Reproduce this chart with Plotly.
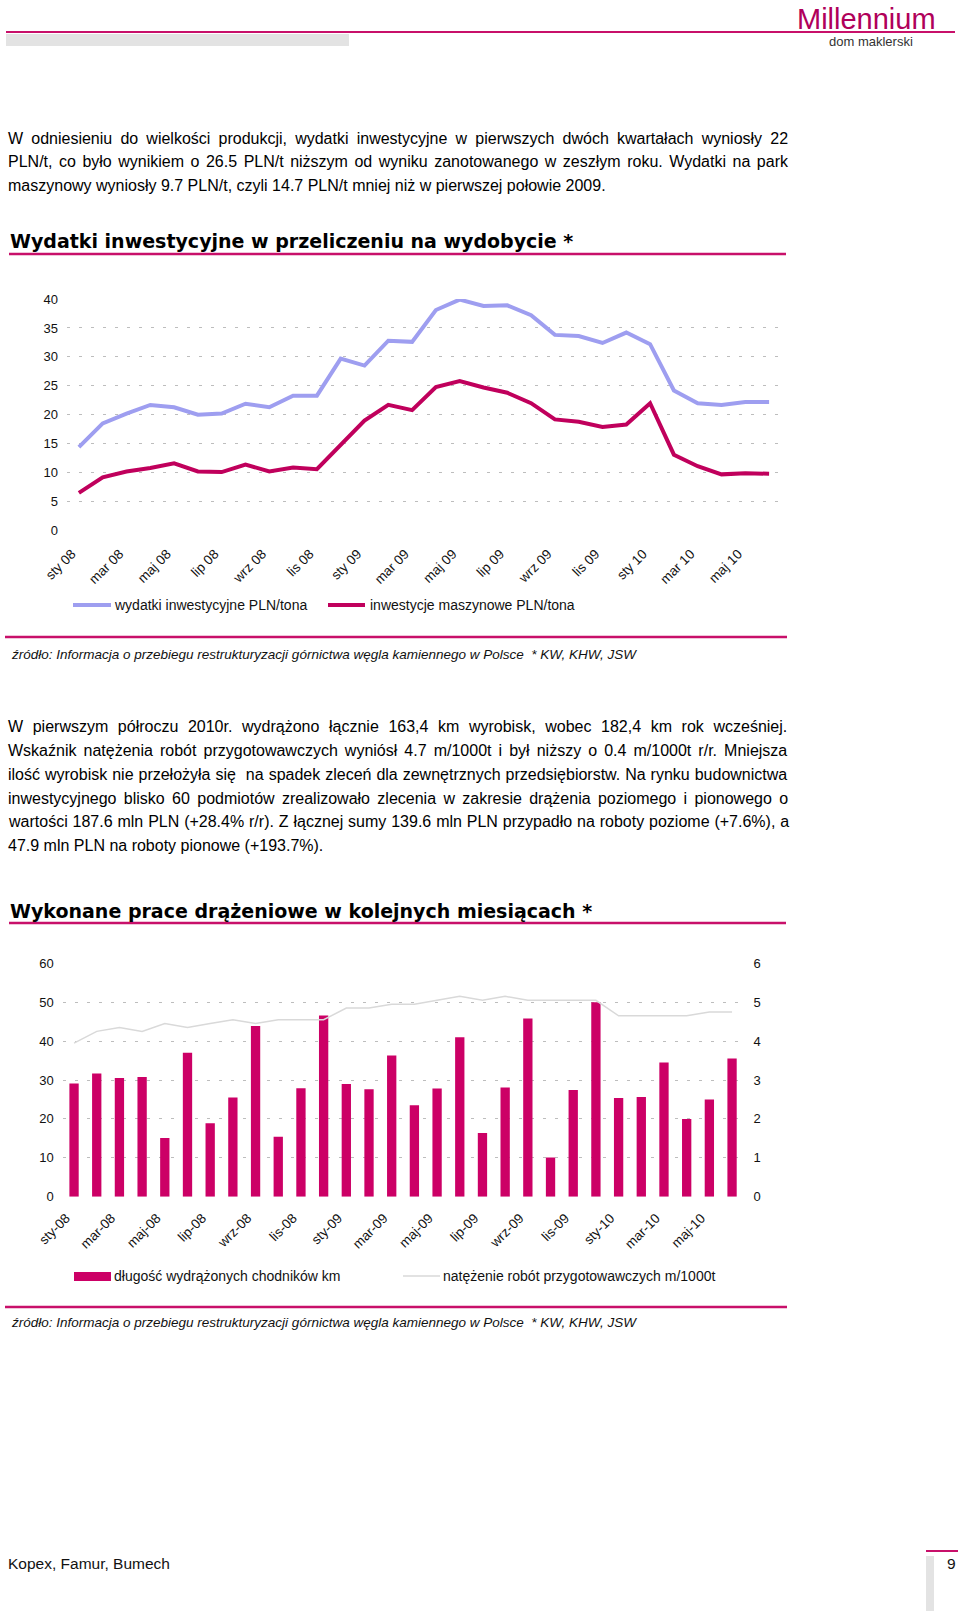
import plotly.graph_objects as go

W, H = 960, 1611

# ---------------- data ----------------
months_1 = ["sty 08", "lut 08", "mar 08", "kwi 08", "maj 08", "cze 08", "lip 08", "sie 08",
            "wrz 08", "paź 08", "lis 08", "gru 08", "sty 09", "lut 09", "mar 09", "kwi 09",
            "maj 09", "cze 09", "lip 09", "sie 09", "wrz 09", "paź 09", "lis 09", "gru 09",
            "sty 10", "lut 10", "mar 10", "kwi 10", "maj 10", "cze 10"]
ticks_1 = ["sty 08", "mar 08", "maj 08", "lip 08", "wrz 08", "lis 08", "sty 09", "mar 09",
           "maj 09", "lip 09", "wrz 09", "lis 09", "sty 10", "mar 10", "maj 10"]
wydatki_inwest = [14.4, 18.5, 20.2, 21.7, 21.3, 20.0, 20.2, 21.9, 21.3, 23.3, 23.3, 29.7,
                  28.5, 32.8, 32.6, 38.1, 39.9, 38.8, 38.9, 37.2, 33.8, 33.6, 32.4, 34.2,
                  32.2, 24.2, 22.0, 21.7, 22.2, 22.2]
inwest_maszyn = [6.5, 9.2, 10.2, 10.8, 11.6, 10.2, 10.1, 11.4, 10.2, 10.9, 10.6, 14.9,
                 19.0, 21.7, 20.8, 24.8, 25.8, 24.7, 23.8, 22.0, 19.2, 18.8, 17.9, 18.3,
                 22.0, 13.1, 11.1, 9.7, 9.9, 9.8]

months_2 = ["sty-08", "lut-08", "mar-08", "kwi-08", "maj-08", "cze-08", "lip-08", "sie-08",
            "wrz-08", "paź-08", "lis-08", "gru-08", "sty-09", "lut-09", "mar-09", "kwi-09",
            "maj-09", "cze-09", "lip-09", "sie-09", "wrz-09", "paź-09", "lis-09", "gru-09",
            "sty-10", "lut-10", "mar-10", "kwi-10", "maj-10", "cze-10"]
ticks_2 = ["sty-08", "mar-08", "maj-08", "lip-08", "wrz-08", "lis-08", "sty-09", "mar-09",
           "maj-09", "lip-09", "wrz-09", "lis-09", "sty-10", "mar-10", "maj-10"]
dlugosc_km = [29.1, 31.7, 30.5, 30.8, 15.1, 37.0, 18.9, 25.5, 43.9, 15.4, 27.9, 46.6,
              29.0, 27.6, 36.3, 23.5, 27.8, 41.0, 16.4, 28.1, 45.8, 10.1, 27.4, 50.0,
              25.4, 25.6, 34.5, 20.0, 25.0, 35.5]
natezenie = [3.95, 4.25, 4.35, 4.25, 4.45, 4.35, 4.45, 4.55, 4.45, 4.55, 4.55, 4.55,
             4.85, 4.85, 4.95, 4.95, 5.05, 5.15, 5.05, 5.15, 5.05, 5.05, 5.05, 5.05,
             4.65, 4.65, 4.65, 4.65, 4.75, 4.75]

para_1 = ["W odniesieniu do wielkości produkcji, wydatki inwestycyjne w pierwszych dwóch kwartałach wyniosły 22",
          "PLN/t, co było wynikiem o 26.5 PLN/t niższym od wyniku zanotowanego w zeszłym roku. Wydatki na park",
          "maszynowy wyniosły 9.7 PLN/t, czyli 14.7 PLN/t mniej niż w pierwszej połowie 2009."]
para_2 = ["W pierwszym półroczu 2010r. wydrążono łącznie 163,4 km wyrobisk, wobec 182,4 km rok wcześniej.",
          "Wskaźnik natężenia robót przygotowawczych wyniósł 4.7 m/1000t i był niższy o 0.4 m/1000t r/r. Mniejsza",
          "ilość wyrobisk nie przełożyła się  na spadek zleceń dla zewnętrznych przedsiębiorstw. Na rynku budownictwa",
          "inwestycyjnego blisko 60 podmiotów zrealizowało zlecenia w zakresie drążenia poziomego i pionowego o",
          "wartości 187.6 mln PLN (+28.4% r/r). Z łącznej sumy 139.6 mln PLN przypadło na roboty poziome (+7.6%), a",
          "47.9 mln PLN na roboty pionowe (+193.7%)."]
title_1 = "Wydatki inwestycyjne w przeliczeniu na wydobycie *"
title_2 = "Wykonane prace drążeniowe w kolejnych miesiącach *"
source = "źródło: Informacja o przebiegu restrukturyzacji górnictwa węgla kamiennego w Polsce  * KW, KHW, JSW"
legend_1 = ["wydatki inwestycyjne PLN/tona", "inwestycje maszynowe PLN/tona"]
legend_2 = ["długość wydrążonych chodników km", "natężenie robót przygotowawczych m/1000t"]

# ---------------- styles ----------------
FONT = "Liberation Sans, Arial, sans-serif"
MAG = "#C8106A"
BAR = "#CC0066"
LINE_MAG = "#C0005C"
LINE_BLUE = "#9E9EF0"
GRID = "#BDBDBD"
TXT = "#111111"


def X(px):
    return px / W


def Y(py):
    return 1 - py / H


# Arial / Liberation Sans advance widths (1/1000 em) for justification
AW = {" ": 278, "!": 278, "%": 889, "(": 333, ")": 333, "*": 389, "+": 584, ",": 278,
      "-": 333, ".": 278, "/": 278, ":": 278, ";": 278}
for d in "0123456789":
    AW[d] = 556
AW.update(dict(zip("ABCDEFGHIJKLMNOPQRSTUVWXYZ",
                   [667, 667, 722, 722, 667, 611, 778, 722, 278, 500, 667, 556, 833, 722, 778,
                    667, 778, 722, 667, 611, 722, 667, 944, 667, 667, 611])))
AW.update(dict(zip("abcdefghijklmnopqrstuvwxyz",
                   [556, 556, 500, 556, 556, 278, 556, 556, 222, 222, 500, 222, 833, 556, 556,
                    556, 556, 333, 500, 278, 556, 500, 722, 500, 500, 500])))
AW.update({"ą": 556, "ć": 500, "ę": 556, "ł": 222, "ń": 556, "ó": 556, "ś": 500, "ź": 500,
           "ż": 500, "Ł": 556, "Ś": 667, "Ż": 611, "Ź": 611, "Ó": 778})


def text_w(s, size):
    return sum(AW.get(c, 556) for c in s) * size / 1000.0


def justify(s, size, width):
    n = s.count(" ")
    extra = (width - text_w(s, size)) / max(n, 1)
    return '<span style="word-spacing:%.2fpx">%s</span>' % (extra, s)


fig = go.Figure()

# ---------------- chart 1 ----------------
fig.add_trace(go.Scatter(x=months_1, y=wydatki_inwest, mode="lines", name=legend_1[0],
                         line=dict(color=LINE_BLUE, width=4), xaxis="x", yaxis="y",
                         showlegend=False))
fig.add_trace(go.Scatter(x=months_1, y=inwest_maszyn, mode="lines", name=legend_1[1],
                         line=dict(color=LINE_MAG, width=4), xaxis="x", yaxis="y",
                         showlegend=False))

# ---------------- chart 2 ----------------
fig.add_trace(go.Bar(x=months_2, y=dlugosc_km, name=legend_2[0], marker=dict(color=BAR, line=dict(width=0)),
                     xaxis="x2", yaxis="y2", showlegend=False))
fig.add_trace(go.Scatter(x=months_2, y=natezenie, mode="lines", name=legend_2[1],
                         line=dict(color="#D9D9D9", width=1.5), xaxis="x2", yaxis="y3",
                         showlegend=False))

tickfont = dict(family=FONT, size=13, color=TXT)
xtickfont = dict(family=FONT, size=13.5, color=TXT)
axis_common = dict(showline=False, zeroline=False, ticks="", automargin=False)

fig.update_layout(
    width=W, height=H, margin=dict(l=0, r=0, t=0, b=0, pad=0, autoexpand=False),
    paper_bgcolor="white", plot_bgcolor="white",
    bargap=0.59, hovermode=False,
    xaxis=dict(domain=[X(67), X(781)], anchor="y", type="category", range=[-0.5, 29.5],
               tickmode="array", tickvals=ticks_1, ticktext=ticks_1, tickangle=-45,
               tickfont=xtickfont, showgrid=False, ticklabelstandoff=12, ticklabelshift=-7,
               **axis_common),
    yaxis=dict(domain=[Y(530.5), Y(299)], anchor="x", range=[0, 40], dtick=5,
               showgrid=True, gridcolor=GRID, griddash="3px,9px", gridwidth=1,
               tickfont=tickfont, ticklabelstandoff=8, **axis_common),
    xaxis2=dict(domain=[X(62.7), X(743.4)], anchor="y2", type="category", range=[-0.5, 29.5],
                tickmode="array", tickvals=ticks_2, ticktext=ticks_2, tickangle=-45,
                tickfont=xtickfont, showgrid=False, ticklabelstandoff=10, ticklabelshift=-8,
                **axis_common),
    yaxis2=dict(domain=[Y(1196.7), Y(963.3)], anchor="x2", range=[0, 60], dtick=10,
                showgrid=True, gridcolor=GRID, griddash="3px,9px", gridwidth=1,
                tickfont=tickfont, ticklabelstandoff=8, **axis_common),
    yaxis3=dict(overlaying="y2", side="right", anchor="x2", range=[0, 6], dtick=1,
                showgrid=False, tickfont=tickfont, ticklabelstandoff=9, **axis_common),
)

shapes = []
annots = []


def rect(x0, y0, x1, y1, color):
    shapes.append(dict(type="rect", xref="paper", yref="paper", x0=X(x0), x1=X(x1),
                       y0=Y(y1), y1=Y(y0), fillcolor=color, line=dict(width=0), layer="above"))


def hline(x0, x1, y, color, width):
    shapes.append(dict(type="line", xref="paper", yref="paper", x0=X(x0), x1=X(x1),
                       y0=Y(y), y1=Y(y), line=dict(color=color, width=width), layer="above"))


def text(s, x, y, size, family=FONT, color=TXT, xanchor="left"):
    annots.append(dict(text=s, xref="paper", yref="paper", x=X(x), y=Y(y), xanchor=xanchor,
                       yanchor="middle", showarrow=False, borderpad=0,
                       font=dict(family=family, size=size, color=color)))


# header
hline(6, 955, 32, MAG, 2)
rect(6, 34, 349, 46, "#E3E3E3")
text("Millennium", 937, 19, 29, color="#B0005A", xanchor="right")
text("dom maklerski", 914, 42, 13, color="#333333", xanchor="right")

# paragraph 1
P_SIZE = 16
P_LEFT, P_RIGHT = 7, 787
for i, line in enumerate(para_1):
    y = 138 + i * 23.5
    s = justify(line, P_SIZE, P_RIGHT - P_LEFT) if i < len(para_1) - 1 else line
    text(s, P_LEFT, y, P_SIZE, color="#000000")

# title 1
text("<b>" + title_1 + "</b>", 9, 241, 19, family="DejaVu Sans, sans-serif", color="#000000")
hline(9, 786, 254, MAG, 2.5)

# legend 1
hline(73, 111, 605, LINE_BLUE, 4)
text(legend_1[0], 113, 605, 14)
hline(328, 365, 605, LINE_MAG, 4)
text(legend_1[1], 369, 605, 14)

# source 1
hline(5, 787, 637, MAG, 2.5)
text("<i>" + source + "</i>", 10, 654, 13.5)

# paragraph 2
for i, line in enumerate(para_2):
    y = 726.6 + i * 23.8
    s = justify(line, P_SIZE, P_RIGHT - P_LEFT) if i < len(para_2) - 1 else line
    text(s, P_LEFT, y, P_SIZE, color="#000000")

# title 2
text("<b>" + title_2 + "</b>", 9, 911, 19, family="DejaVu Sans, sans-serif", color="#000000")
hline(9, 786, 923, MAG, 2.5)

# legend 2
rect(74, 1272, 111, 1281, BAR)
text(legend_2[0], 113, 1276, 14)
hline(403, 440, 1276, "#D9D9D9", 1.5)
text(legend_2[1], 442, 1276, 14)

# source 2
hline(5, 787, 1307, MAG, 2.5)
text("<i>" + source + "</i>", 10, 1322, 13.5)

# footer
text("Kopex, Famur, Bumech", 7, 1563, 15.5)
hline(926, 958, 1551, MAG, 2)
rect(926, 1556, 934, 1611, "#E3E3E3")
text("9", 957, 1563, 15.5, xanchor="right")

fig.update_layout(shapes=shapes, annotations=annots)
fig.write_html("out.html", config={"displayModeBar": False, "staticPlot": True},
               post_script="document.body.style.margin='0';document.body.style.overflow='hidden';")
